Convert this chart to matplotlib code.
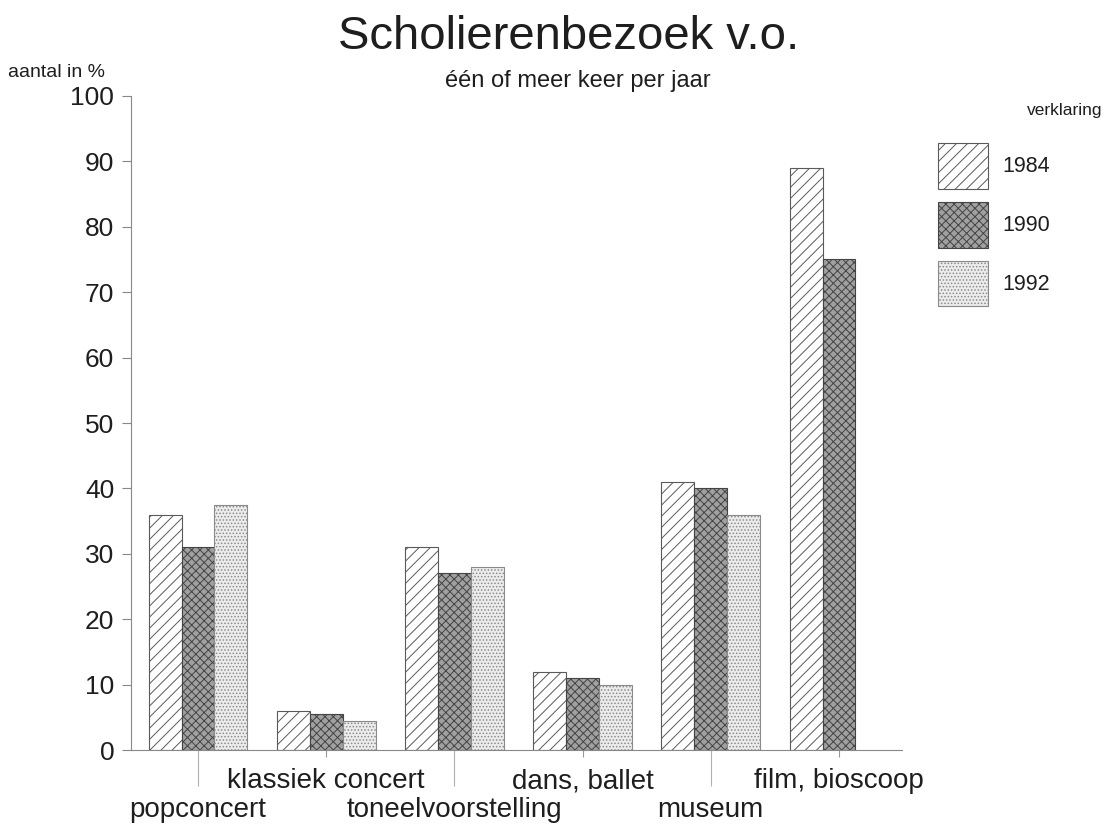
import numpy as np
import matplotlib
matplotlib.use("Agg")
import matplotlib.pyplot as plt

# data (percent of pupils, one or more visits per year)
categories = ['popconcert', 'klassiek concert', 'toneelvoorstelling',
              'dans, ballet', 'museum', 'film, bioscoop']
years = ['1984', '1990', '1992']
v1984 = [36, 6, 31, 12, 41, 89]
v1990 = [31, 5.5, 27, 11, 40, 75]
v1992 = [37.5, 4.5, 28, 10, 36, np.nan]   # no 1992 bar for film
yticks = list(range(0, 101, 10))

plt.rcParams['font.family'] = ['Liberation Sans', 'DejaVu Sans']
plt.rcParams['hatch.linewidth'] = 0.7
txt = '#1e1e1e'

fig = plt.figure(figsize=(11.06, 8.24), dpi=100)
ax = fig.add_axes([0.1184, 0.0898, 0.697, 0.7937])

x = np.arange(len(categories))
w = 0.257
styles = [
    dict(facecolor='white', edgecolor='#5a5a5a', hatch='///'),
    dict(facecolor='#a0a0a0', edgecolor='#444444', hatch='xxxx'),
    dict(facecolor='#ececec', edgecolor='#8a8a8a', hatch='.....'),
]
for i, (vals, yr) in enumerate(zip([v1984, v1990, v1992], years)):
    ax.bar(x + (i - 1) * w, vals, width=w, label=yr, linewidth=0.8, **styles[i])

ax.set_xlim(-0.523, 5.49)
ax.set_ylim(0, 100)
ax.set_yticks(yticks)
ax.set_yticklabels([str(t) for t in yticks], fontsize=19, color=txt)
ax.tick_params(axis='y', direction='out', length=6.5, width=0.8, color='#888888', pad=5.5)

# long ticks for the lower row of labels, short ones for the upper row
ax.set_xticks(x[0::2])
ax.set_xticks(x[1::2], minor=True)
ax.set_xticklabels([])
ax.tick_params(axis='x', which='major', direction='out', length=26, width=0.8, color='#b0b0b0')
ax.tick_params(axis='x', which='minor', direction='out', length=5, width=0.8, color='#999999')

for s in ['top', 'right']:
    ax.spines[s].set_visible(False)
ax.spines['left'].set_color('#888888')
ax.spines['bottom'].set_color('#888888')
ax.spines['left'].set_linewidth(0.8)
ax.spines['bottom'].set_linewidth(0.8)

trans = ax.get_xaxis_transform()
for i, cat in enumerate(categories):
    yy = -0.1024 if i % 2 == 0 else -0.0581
    ax.text(x[i], yy, cat, transform=trans, ha='center', va='baseline',
            fontsize=20, color=txt)

fig.text(0.5145, 0.9405, 'Scholierenbezoek v.o.', ha='center', va='baseline',
         fontsize=34, color=txt)
fig.text(0.5226, 0.8944, 'één of meer keer per jaar', ha='center', va='baseline',
         fontsize=17, color=txt)
fig.text(0.0072, 0.9066, 'aantal in %', ha='left', va='baseline', fontsize=14, color=txt)
fig.text(0.9964, 0.8604, 'verklaring', ha='right', va='baseline', fontsize=12.5, color=txt)

leg = ax.legend(loc='upper left', bbox_to_anchor=(938 / 1106, 1 - 143 / 824),
                bbox_transform=fig.transFigure, frameon=False, fontsize=15.5,
                handlelength=2.3, handleheight=2.9, labelspacing=0.6,
                handletextpad=0.7, borderpad=0, borderaxespad=0)
for t in leg.get_texts():
    t.set_color(txt)

fig.savefig('out.png', dpi=100)
